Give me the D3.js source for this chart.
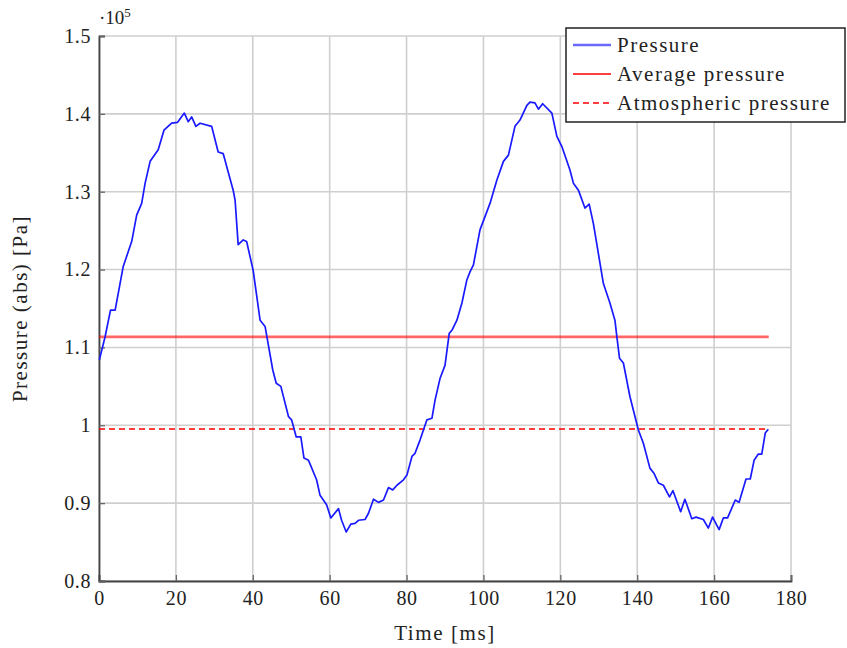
<!DOCTYPE html>
<html>
<head>
<meta charset="utf-8">
<script src="https://cdn.jsdelivr.net/npm/d3@7"></script>
<style>
  body { margin: 0; background: #fff; }
  text { font-family: "Liberation Serif", "DejaVu Serif", serif; fill: #222; }
</style>
</head>
<body>
<div class="pressure-chart"></div>
<script>
// measured samples, time in ms, pressure in Pa (abs)
var timeMs = [0.1, 1.6, 3.0, 4.2, 6.3, 8.5, 9.8, 11.1, 12.0, 13.3, 15.4, 16.9, 18.9, 20.4, 22.2, 23.2, 24.1, 25.2, 26.3, 29.3,
  31.0, 32.3, 34.9, 35.4, 36.2, 37.5, 38.4, 40.1, 41.9, 43.2, 45.2, 46.1, 47.3, 49.3, 50.1, 51.3, 52.5, 53.3, 54.5, 56.6,
  57.5, 59.2, 60.3, 62.3, 63.1, 64.3, 65.5, 66.6, 67.5, 69.2, 70.1, 71.4, 72.7, 74.0, 75.3, 76.4, 77.5, 79.2, 80.1, 81.4,
  82.2, 83.5, 85.3, 86.6, 87.4, 88.7, 90.0, 91.1, 91.8, 93.1, 94.4, 95.7, 96.5, 97.4, 99.1, 101.7, 103.5, 105.2, 106.5, 108.2,
  109.5, 111.3, 112.1, 113.4, 114.3, 115.4, 117.8, 119.1, 120.4, 122.5, 123.4, 124.7, 126.4, 127.5, 128.6, 131.2, 132.9, 134.2, 134.7, 135.4,
  136.4, 138.1, 140.3, 141.6, 143.3, 144.4, 145.5, 146.8, 148.4, 149.3, 151.3, 152.4, 154.2, 155.3, 157.2, 158.5, 159.6, 161.3, 162.4, 163.5,
  165.5, 166.5, 168.3, 169.4, 170.4, 171.5, 172.4, 173.3, 174.1];
var pressurePa = [108400, 111400, 114800, 114800, 120400, 123600, 127000, 128500, 131100, 133900, 135400, 137900, 138800, 138900, 140100, 139000, 139600, 138400, 138800, 138400,
  135100, 134900, 130200, 128900, 123200, 123800, 123600, 119900, 113500, 112700, 107100, 105400, 105000, 101100, 100700, 98500, 98500, 95800, 95500, 93000,
  91000, 89800, 88100, 89300, 87800, 86300, 87300, 87400, 87800, 87900, 88700, 90500, 90100, 90400, 92000, 91700, 92300, 93000, 93600, 96000,
  96400, 98100, 100700, 100900, 103200, 106000, 107700, 111800, 112200, 113500, 115700, 118700, 119700, 120600, 125100, 128500, 131500, 133900, 134700, 138400,
  139200, 141100, 141500, 141400, 140600, 141300, 140100, 137100, 135800, 132800, 131100, 130200, 127900, 128400, 125900, 118200, 115700, 113500, 111400, 108600,
  108000, 103700, 99400, 97700, 94500, 93800, 92600, 92300, 90800, 91600, 88900, 90500, 88000, 88200, 87900, 86800, 88200, 86600, 88100, 88100,
  90400, 90100, 93100, 93100, 95500, 96300, 96300, 99000, 99500];

var averagePa = 111350;
var atmosphericPa = 99520;
var refEndMs = 174.2;

var xTicks = [0, 20, 40, 60, 80, 100, 120, 140, 160, 180];
var yTicks = [80000, 90000, 100000, 110000, 120000, 130000, 140000, 150000];

var legendLabels = ["Pressure", "Average pressure", "Atmospheric pressure"];

var margin = {top: 36, right: 56, bottom: 67, left: 99};
var width = 847 - margin.left - margin.right;
var height = 648 - margin.top - margin.bottom;

var svg = d3.select(".pressure-chart")
  .append("svg")
    .attr("width", 847)
    .attr("height", 648);

var g = svg.append("g")
  .attr("transform", "translate(" + margin.left + "," + margin.top + ")");

var x = d3.scaleLinear().domain([0, 180]).range([0, width]);
var y = d3.scaleLinear().domain([80000, 150000]).range([height, 0]);

// grid
g.selectAll(".gx").data(xTicks).enter().append("line")
  .attr("x1", function(d) { return x(d); }).attr("x2", function(d) { return x(d); })
  .attr("y1", 0).attr("y2", height)
  .attr("stroke", "#cfcfcf").attr("stroke-width", 1.6);
g.selectAll(".gy").data(yTicks).enter().append("line")
  .attr("x1", 0).attr("x2", width)
  .attr("y1", function(d) { return y(d); }).attr("y2", function(d) { return y(d); })
  .attr("stroke", "#cfcfcf").attr("stroke-width", 1.6);

// axes
var fmtY = d3.format(".2~f");
var xAxis = g.append("g")
  .attr("transform", "translate(0," + height + ")")
  .call(d3.axisBottom(x).tickValues(xTicks).tickSize(-6).tickPadding(10));
var yAxis = g.append("g")
  .call(d3.axisLeft(y).tickValues(yTicks).tickSize(-6).tickPadding(8)
    .tickFormat(function(d) { return fmtY(d / 1e5); }));

[xAxis, yAxis].forEach(function(a) {
  a.select(".domain").attr("stroke", "#444").attr("stroke-width", 1.8);
  a.selectAll(".tick line").attr("stroke", "#666").attr("stroke-width", 1.3);
  a.selectAll(".tick text").style("font-size", "20px").attr("fill", "#222")
    .style("letter-spacing", "0.6px")
    .style("font-family", "'Liberation Serif', serif");
});

// reference lines
g.append("line")
  .attr("x1", x(0)).attr("x2", x(refEndMs))
  .attr("y1", y(averagePa)).attr("y2", y(averagePa))
  .attr("stroke", "#ff0000").attr("stroke-opacity", 0.6).attr("stroke-width", 2.6);
g.append("line")
  .attr("x1", x(0)).attr("x2", x(refEndMs))
  .attr("y1", y(atmosphericPa)).attr("y2", y(atmosphericPa))
  .attr("stroke", "#ff0000").attr("stroke-width", 1.5)
  .attr("stroke-dasharray", "6,4");

// pressure curve
var line = d3.line()
  .x(function(d, i) { return x(timeMs[i]); })
  .y(function(d) { return y(d); });

g.append("path")
  .datum(pressurePa)
  .attr("d", line)
  .attr("fill", "none")
  .attr("stroke", "#1a1aff")
  .attr("stroke-width", 1.7)
  .attr("stroke-linejoin", "round");

// exponent label
var expo = svg.append("text")
  .attr("x", 99).attr("y", 24)
  .style("font-size", "19px");
expo.append("tspan").text("·10");
expo.append("tspan").attr("dy", -7).style("font-size", "13px").text("5");

// axis labels
svg.append("text")
  .attr("x", margin.left + width / 2).attr("y", 640)
  .attr("text-anchor", "middle")
  .style("font-size", "21px")
  .style("letter-spacing", "1.6px")
  .text("Time [ms]");
svg.append("text")
  .attr("transform", "translate(27," + (margin.top + height / 2) + ") rotate(-90)")
  .attr("text-anchor", "middle")
  .style("font-size", "21px")
  .style("letter-spacing", "1.5px")
  .text("Pressure (abs) [Pa]");

// legend
var legend = svg.append("g").attr("transform", "translate(566,28)");
legend.append("rect")
  .attr("width", 279).attr("height", 94)
  .attr("fill", "#fff").attr("stroke", "#222").attr("stroke-width", 1.5);

var rows = legend.selectAll(".row").data(legendLabels).enter().append("g")
  .attr("transform", function(d, i) { return "translate(0," + (17 + i * 29) + ")"; });

rows.append("line")
  .attr("x1", 7).attr("x2", 45).attr("y1", 0).attr("y2", 0)
  .attr("stroke", function(d, i) { return i == 0 ? "#6a6aff" : "#ff0000"; })
  .attr("stroke-width", function(d, i) { return i == 0 ? 2.4 : 1.5; })
  .attr("stroke-dasharray", function(d, i) { return i == 2 ? "6,4" : null; });

rows.append("text")
  .attr("x", 51).attr("y", 7)
  .style("font-size", "21px")
  .style("letter-spacing", "1.5px")
  .text(function(d) { return d; });
</script>
</body>
</html>
